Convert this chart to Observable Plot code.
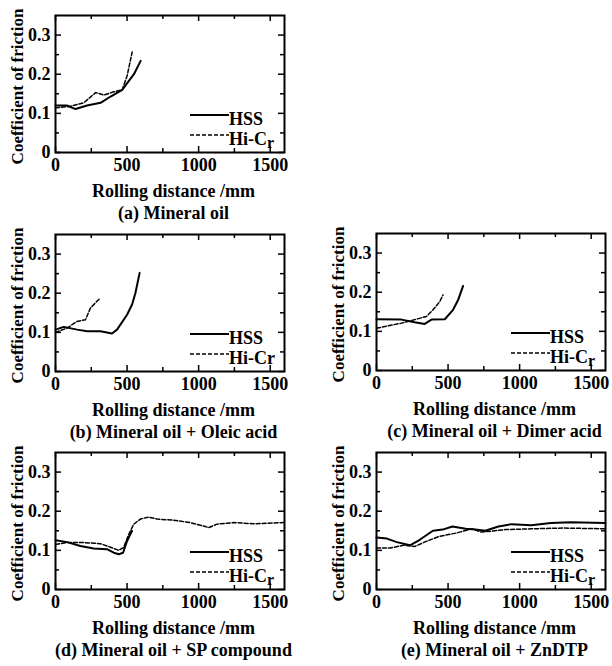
<!DOCTYPE html>
<html><head><meta charset="utf-8">
<script src="https://cdn.jsdelivr.net/npm/d3@7"></script>
<script src="https://cdn.jsdelivr.net/npm/@observablehq/plot@0.6"></script>
<style>
body{margin:0;background:#fff;}
#root{position:relative;width:612px;height:666px;overflow:hidden;}
#root > svg{position:absolute;}
#root svg text{font-family:"Liberation Serif",serif;}
</style></head><body><div id="root"></div><script>
// ---- data ----
const panelCaptions = ["(a) Mineral oil", "(b) Mineral oil + Oleic acid", "(c) Mineral oil + Dimer acid", "(d) Mineral oil + SP compound", "(e) Mineral oil + ZnDTP"];
const seriesNames = ["HSS", "Hi-Cr"];
const xTitle = "Rolling distance /mm";
const yTitle = "Coefficient of friction";
const xTicks = [0, 500, 1000, 1500];
const xMinorTicks = [250, 750, 1250];
const yTicks = [0, 0.1, 0.2, 0.3];
const yMinorTicks = [0.05, 0.15, 0.25];

const a_HSS_x = [0, 80, 140, 220, 315, 385, 466, 501, 548, 595];
const a_HSS_y = [0.12, 0.12, 0.111, 0.12, 0.127, 0.143, 0.16, 0.177, 0.20, 0.234];
const a_HiCr_x = [0, 105, 198, 280, 338, 408, 466, 501, 536];
const a_HiCr_y = [0.114, 0.118, 0.127, 0.153, 0.147, 0.155, 0.16, 0.197, 0.257];

const b_HSS_x = [0, 58, 151, 221, 314, 395, 430, 500, 535, 558, 588];
const b_HSS_y = [0.107, 0.114, 0.107, 0.103, 0.103, 0.097, 0.107, 0.145, 0.171, 0.20, 0.252];
const b_HiCr_x = [0, 81, 151, 209, 244, 291, 314];
const b_HiCr_y = [0.10, 0.111, 0.128, 0.132, 0.162, 0.18, 0.188];

const c_HSS_x = [0, 174, 267, 337, 384, 477, 535, 570, 605];
const c_HSS_y = [0.131, 0.13, 0.123, 0.119, 0.13, 0.131, 0.155, 0.18, 0.216];
const c_HiCr_x = [0, 81, 174, 267, 349, 395, 442, 465];
const c_HiCr_y = [0.108, 0.114, 0.121, 0.13, 0.138, 0.155, 0.176, 0.193];

const d_HSS_x = [0, 81, 174, 267, 360, 407, 442, 472, 500, 535];
const d_HSS_y = [0.126, 0.121, 0.111, 0.105, 0.103, 0.094, 0.09, 0.094, 0.124, 0.15];
const d_HiCr_x = [0, 81, 198, 314, 384, 442, 477, 512, 547, 593, 651, 709, 826, 942, 1035, 1070, 1128, 1244, 1384, 1600];
const d_HiCr_y = [0.115, 0.12, 0.12, 0.117, 0.108, 0.10, 0.108, 0.141, 0.167, 0.18, 0.185, 0.18, 0.177, 0.171, 0.162, 0.158, 0.167, 0.171, 0.168, 0.171];

const e_HSS_x = [0, 73, 142, 234, 302, 394, 462, 531, 623, 691, 760, 852, 943, 1081, 1218, 1356, 1600];
const e_HSS_y = [0.133, 0.13, 0.121, 0.113, 0.127, 0.15, 0.153, 0.161, 0.155, 0.153, 0.15, 0.161, 0.167, 0.164, 0.17, 0.172, 0.17];
const e_HiCr_x = [0, 96, 188, 268, 348, 440, 554, 669, 726, 806, 897, 1081, 1310, 1600];
const e_HiCr_y = [0.106, 0.106, 0.113, 0.11, 0.123, 0.136, 0.144, 0.155, 0.147, 0.149, 0.153, 0.155, 0.157, 0.155];

// ---- layout ----
const FW = 229, FH = 137;
const ML = 55, MT = 15, MR = 22, MB = 26;
const panels = [
  {cap: 0, left: 55, top: 15, hss: [a_HSS_x, a_HSS_y], hicr: [a_HiCr_x, a_HiCr_y], sub: true},
  {cap: 1, left: 55, top: 234, hss: [b_HSS_x, b_HSS_y], hicr: [b_HiCr_x, b_HiCr_y], sub: false},
  {cap: 2, left: 376, top: 233, hss: [c_HSS_x, c_HSS_y], hicr: [c_HiCr_x, c_HiCr_y], sub: true},
  {cap: 3, left: 55, top: 452, hss: [d_HSS_x, d_HSS_y], hicr: [d_HiCr_x, d_HiCr_y], sub: true},
  {cap: 4, left: 376, top: 452, hss: [e_HSS_x, e_HSS_y], hicr: [e_HiCr_x, e_HiCr_y], sub: true}
];
const zip = ([xs, ys]) => xs.map((x, i) => ({x, y: ys[i]}));
const root = document.getElementById("root");
const fontFam = "Liberation Serif";

for (const p of panels) {
  const chart = Plot.plot({
    width: ML + FW + MR, height: MT + FH + MB,
    marginLeft: ML, marginTop: MT, marginRight: MR, marginBottom: MB,
    style: {fontFamily: fontFam, fontSize: "18px", fontWeight: "bold", color: "black", background: "transparent", overflow: "visible"},
    x: {domain: [0, 1600]},
    y: {domain: [0, 0.35]},
    marks: [
      Plot.line(zip(p.hss), {x: "x", y: "y", stroke: "black", strokeWidth: 2}),
      Plot.line(zip(p.hicr), {x: "x", y: "y", stroke: "black", strokeWidth: 1.5, strokeDasharray: "4,2"}),
      Plot.tickX(xTicks, {x: d => d, insetTop: FH - 6, stroke: "black", strokeWidth: 1.5}),
      Plot.tickX(xMinorTicks, {x: d => d, insetTop: FH - 4, stroke: "black", strokeWidth: 1.5}),
      Plot.tickX(xTicks, {x: d => d, insetBottom: FH - 6, stroke: "black", strokeWidth: 1.5}),
      Plot.tickX(xMinorTicks, {x: d => d, insetBottom: FH - 4, stroke: "black", strokeWidth: 1.5}),
      Plot.tickY(yTicks, {y: d => d, insetRight: FW - 6, stroke: "black", strokeWidth: 1.5}),
      Plot.tickY(yMinorTicks, {y: d => d, insetRight: FW - 4, stroke: "black", strokeWidth: 1.5}),
      Plot.tickY(yTicks, {y: d => d, insetLeft: FW - 6, stroke: "black", strokeWidth: 1.5}),
      Plot.tickY(yMinorTicks, {y: d => d, insetLeft: FW - 4, stroke: "black", strokeWidth: 1.5}),
      Plot.axisX(xTicks, {anchor: "bottom", tickSize: 0, tickPadding: 6, label: null, fontSize: 18, fontWeight: "bold", tickFormat: d => String(d)}),
      Plot.axisY(yTicks, {anchor: "left", tickSize: 0, tickPadding: 5, label: null, fontSize: 18, fontWeight: "bold", tickFormat: d => d === 0 ? "0" : d.toFixed(1)}),
      Plot.frame({stroke: "black", strokeWidth: 2})
    ]
  });
  chart.style.left = (p.left - ML) + "px";
  chart.style.top = (p.top - MT) + "px";
  root.appendChild(chart);
}

const ov = d3.select(root).append("svg")
  .attr("width", 612).attr("height", 666)
  .style("left", "0px").style("top", "0px")
  .attr("font-weight", "bold");

for (const p of panels) {
  const L = p.left, T = p.top, R = L + FW, B = T + FH, cx = L + FW / 2 + 4;
  ov.append("text").attr("transform", `translate(${L - 32},${T + FH / 2 + 3}) rotate(-90)`)
    .attr("text-anchor", "middle").attr("font-size", 17).text(yTitle);
  ov.append("text").attr("x", cx).attr("y", B + 45).attr("text-anchor", "middle")
    .attr("font-size", 18).text(xTitle);
  ov.append("text").attr("x", cx).attr("y", B + 67).attr("text-anchor", "middle")
    .attr("font-size", 18).text(panelCaptions[p.cap]);
  ov.append("line").attr("x1", R - 94).attr("x2", R - 55).attr("y1", B - 37).attr("y2", B - 37)
    .attr("stroke", "black").attr("stroke-width", 2);
  ov.append("text").attr("x", R - 55).attr("y", B - 27).attr("font-size", 18).text(seriesNames[0]);
  ov.append("line").attr("x1", R - 94).attr("x2", R - 55).attr("y1", B - 17).attr("y2", B - 17)
    .attr("stroke", "black").attr("stroke-width", 1.5).attr("stroke-dasharray", "4,2");
  const t = ov.append("text").attr("x", R - 55).attr("y", B - 7).attr("font-size", 18);
  if (p.sub) {
    t.append("tspan").text(seriesNames[1].slice(0, -1));
    t.append("tspan").attr("dy", 3).attr("font-size", 16).text(seriesNames[1].slice(-1));
  } else {
    t.text(seriesNames[1]);
  }
}
</script></body></html>
